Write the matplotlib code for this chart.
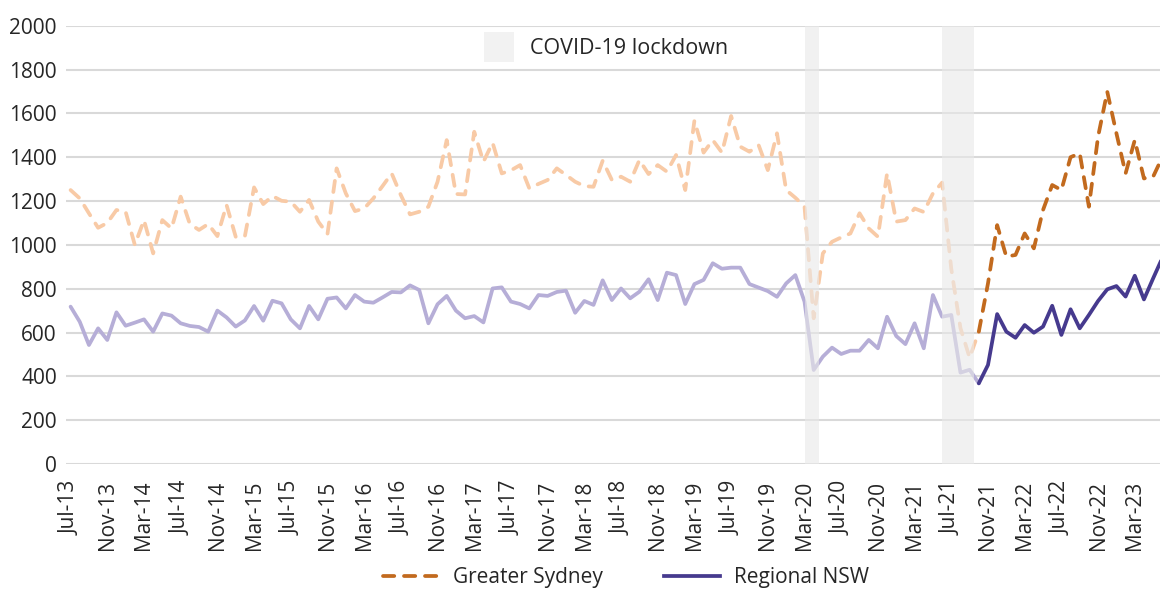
import matplotlib
matplotlib.use("Agg")
import matplotlib.pyplot as plt
from matplotlib.patches import Rectangle
from matplotlib.lines import Line2D
import numpy as np
import pandas as pd

# ---------------- data ----------------
months = pd.date_range("2013-07-01", periods=120, freq="MS")
month_labels = [d.strftime("%b-%y") for d in months]

greater_sydney = [
    1250, 1212, 1144, 1078, 1100, 1159, 1151, 1000, 1113, 961,
    1113, 1075, 1220, 1095, 1068, 1095, 1040, 1182, 1037, 1040,
    1262, 1186, 1223, 1201, 1197, 1151, 1205, 1106, 1049, 1349,
    1235, 1154, 1166, 1212, 1268, 1326, 1227, 1139, 1151, 1174,
    1288, 1478, 1232, 1230, 1516, 1379, 1466, 1326, 1340, 1364,
    1258, 1278, 1296, 1349, 1319, 1288, 1268, 1265, 1384, 1296,
    1311, 1288, 1387, 1323, 1364, 1334, 1410, 1250, 1567, 1421,
    1478, 1421, 1588, 1448, 1425, 1455, 1341, 1509, 1250, 1215,
    1175, 665, 961, 1014, 1034, 1052, 1144, 1075, 1037, 1326,
    1106, 1113, 1166, 1150, 1235, 1284, 890, 620, 485, 604,
    824, 1090, 946, 954, 1052, 984, 1159, 1273, 1250, 1400,
    1418, 1174, 1494, 1699, 1509, 1326, 1478, 1303, 1311, 1400,
]

regional_nsw = [
    718, 649, 543, 619, 566, 692, 631, 645, 660, 604,
    687, 677, 642, 630, 625, 604, 700, 669, 627, 655,
    721, 654, 745, 733, 660, 619, 721, 660, 754, 760,
    710, 771, 741, 736, 760, 785, 783, 815, 794, 642,
    729, 767, 700, 665, 675, 646, 801, 806, 741, 730,
    710, 771, 767, 785, 791, 690, 744, 726, 838, 748,
    801, 756, 786, 843, 748, 873, 862, 730, 821, 840,
    916, 891, 896, 896, 821, 805, 789, 763, 824, 862,
    741, 429, 490, 531, 502, 517, 517, 566, 528, 672,
    584, 547, 642, 528, 771, 672, 680, 417, 430, 368,
    452, 684, 604, 576, 634, 599, 627, 722, 589, 706,
    619, 680, 744, 797, 812, 764, 859, 751, 847, 940,
]

# index from which the series are highlighted (Oct-21 onward)
highlight_start = 99
# lockdown periods (in month-index units)
lockdown_start = [80.0, 95.0]
lockdown_end = [81.6, 98.5]

tick_every = 4
y_ticks = list(range(0, 2001, 200))

# ---------------- style ----------------
FONT = ["Open Sans", "DejaVu Sans"]
plt.rcParams["font.family"] = FONT
TXT = "#262626"
ORANGE = "#C26A1E"
ORANGE_L = "#F8CAA6"
PURPLE = "#463A8E"
PURPLE_L = "#B6AED7"
FS = 15

W, H = 1160, 592
fig = plt.figure(figsize=(W / 100, H / 100), dpi=100)
ax = fig.add_axes([66 / W, (H - 464) / H, 1 - 66 / W, (464 - 25.7) / H])

x = np.arange(len(month_labels))
gs = np.array(greater_sydney, dtype=float)
rn = np.array(regional_nsw, dtype=float)

lw = 2.7
hs = highlight_start
# faded history
ax.plot(x[: hs + 1], gs[: hs + 1], color=ORANGE_L, lw=lw, dashes=(3, 2.6),
        dash_capstyle="round", zorder=2)
ax.plot(x[: hs + 1], rn[: hs + 1], color=PURPLE_L, lw=lw, solid_capstyle="round",
        solid_joinstyle="round", zorder=2)
# highlighted recent
ax.plot(x[hs:], gs[hs:], color=ORANGE, lw=lw, dashes=(3, 2.6),
        dash_capstyle="round", zorder=2.1)
ax.plot(x[hs:], rn[hs:], color=PURPLE, lw=lw, solid_capstyle="round",
        solid_joinstyle="round", zorder=2.1)

for s, e in zip(lockdown_start, lockdown_end):
    ax.axvspan(s, e, color="#E9E9E9", alpha=0.6, lw=0, zorder=3)

ax.set_xlim(-0.5, 118.75)
ax.set_ylim(0, 2000)
ax.set_yticks(y_ticks)
ax.set_yticklabels([str(v) for v in y_ticks])
ax.set_xticks(x[::tick_every])
ax.set_xticklabels(month_labels[::tick_every], rotation=90)
ax.yaxis.grid(True, color="#D9D9D9", lw=1.5, zorder=0.5)
ax.set_axisbelow(True)
for sp in ax.spines.values():
    sp.set_visible(False)
ax.tick_params(axis="y", length=0, pad=6.5, labelsize=FS, labelcolor=TXT)
ax.tick_params(axis="x", length=0, pad=12, labelsize=FS, labelcolor=TXT)

# COVID-19 lockdown legend (top)
fig.patches.append(Rectangle((484 / W, 1 - 62 / H), 30 / W, 30 / H,
                             transform=fig.transFigure, color="#F2F2F2", lw=0))
fig.text(530 / W, 1 - 48 / H, "COVID-19 lockdown", fontsize=15.5, color=TXT,
         va="center", ha="left")

# bottom legend
handles = [
    Line2D([], [], color=ORANGE, lw=lw, dashes=(3, 2.6), dash_capstyle="round"),
    Line2D([], [], color=PURPLE, lw=lw),
]
fig.legend(handles, ["Greater Sydney", "Regional NSW"], loc="center",
           bbox_to_anchor=(626 / W, 1 - 578 / H), ncol=2, frameon=False,
           fontsize=FS, labelcolor=TXT, handlelength=2.7, handletextpad=0.7,
           columnspacing=2.9)

fig.savefig("out.png", dpi=100)
